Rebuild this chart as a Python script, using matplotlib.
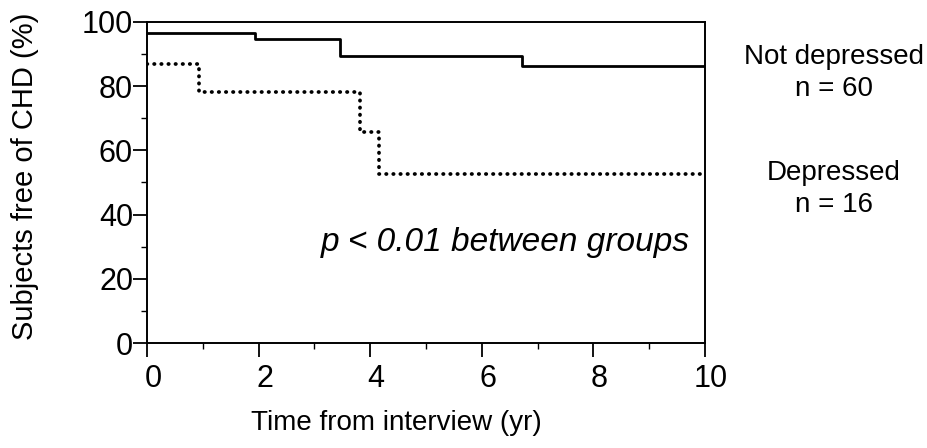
import matplotlib
matplotlib.use("Agg")
import matplotlib.pyplot as plt
from matplotlib.ticker import MultipleLocator
import matplotlib.transforms as mtransforms

plt.rcParams['font.family'] = ['Liberation Sans', 'DejaVu Sans']

# Kaplan-Meier step data
not_dep_times = [0, 1.94, 3.45, 6.72, 10]
not_dep_surv = [96.7, 94.7, 89.3, 86.4, 86.4]
dep_times = [0, 0.93, 3.82, 4.15, 10]
dep_surv = [86.8, 78.1, 65.6, 52.5, 52.5]

x_ticks = [0, 2, 4, 6, 8, 10]
y_ticks = [0, 20, 40, 60, 80, 100]

fig = plt.figure(figsize=(9.28, 4.48), dpi=100)
ax = fig.add_axes([147/928, 1 - 343/448, (705 - 147)/928, (343 - 22)/448])

ax.step(not_dep_times, not_dep_surv, where='post', color='black', lw=2.0)
ax.step(dep_times, dep_surv, where='post', color='black', lw=2.7,
        linestyle=(0, (0.1, 1.8)), dash_capstyle='round')

ax.set_xlim(0, 10)
ax.set_ylim(0, 100)
ax.set_xticks(x_ticks)
ax.set_yticks(y_ticks)
ax.xaxis.set_minor_locator(MultipleLocator(1))
ax.yaxis.set_minor_locator(MultipleLocator(10))
ax.tick_params(axis='both', which='major', direction='out', length=10, width=1.3,
               labelsize=22, pad=0)
ax.tick_params(axis='both', which='minor', direction='out', length=4, width=1.0)
ax.tick_params(axis='x', which='major', pad=5)
for s in ax.spines.values():
    s.set_linewidth(1.4)

offset = mtransforms.ScaledTranslation(6/100, 0, fig.dpi_scale_trans)
for lab in ax.get_xticklabels():
    lab.set_transform(lab.get_transform() + offset)

fig.text(25/928, 1 - 176/448, 'Subjects free of CHD (%)', rotation=90,
         ha='center', va='center', fontsize=21)
fig.text(396/928, 1 - 423/448, 'Time from interview (yr)',
         ha='center', va='center', fontsize=20)

fig.text(505/928, 1 - 243/448, 'p < 0.01 between groups', style='italic',
         ha='center', va='center', fontsize=24)

fig.text(834/928, 1 - 73/448, 'Not depressed\nn = 60', ha='center', va='center',
         fontsize=20, linespacing=1.35)
fig.text(834/928, 1 - 189/448, 'Depressed\nn = 16', ha='center', va='center',
         fontsize=20, linespacing=1.35)

fig.savefig('out.png', dpi=100)
